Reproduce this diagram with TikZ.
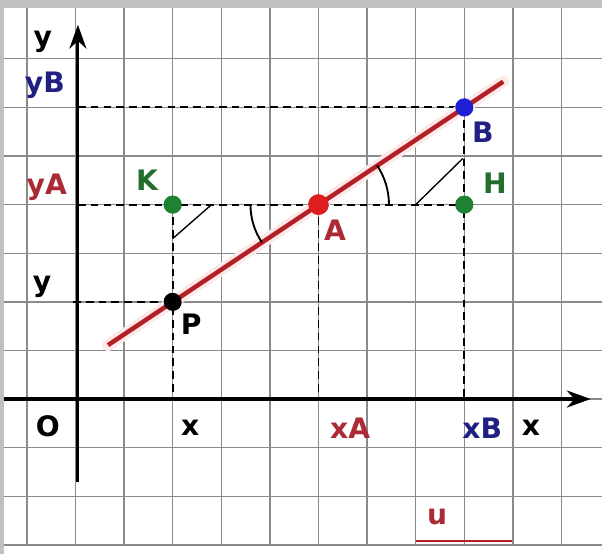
\documentclass[tikz,border=0pt]{standalone}
\usepackage{fontspec}
\setmainfont{DejaVu Sans}
\usetikzlibrary{arrows.meta}
\definecolor{gridgrey}{RGB}{138,138,138}
\definecolor{framegrey}{RGB}{192,192,192}
\definecolor{lnred}{RGB}{178,32,38}
\definecolor{ptred}{RGB}{222,30,30}
\definecolor{ptblue}{RGB}{30,30,210}
\definecolor{ptgreen}{RGB}{30,130,50}
\definecolor{labred}{RGB}{172,42,52}
\definecolor{labblue}{RGB}{32,32,130}
\definecolor{labgreen}{RGB}{35,110,45}

\begin{document}
\begin{tikzpicture}[
    lab/.style={font=\fontsize{16.5}{19}\selectfont\bfseries},
    dot/.style={circle,inner sep=0pt,minimum size=10.5pt},
    dashline/.style={dashed,dash pattern=on 4.5pt off 3pt,line width=1.1pt},
    axisline/.style={line width=1.8pt,-{Stealth[length=14pt,width=10pt]}}]
  % frame and grid
  \useasboundingbox (-1.553,-3.189) rectangle (10.833,8.210);
  \fill[white] (-1.553,-3.189) rectangle (10.833,8.210);
  \fill[framegrey] (-1.553,8.045) rectangle (10.833,8.210);
  \fill[framegrey] (-1.553,-3.189) rectangle (-1.47,8.210);
  \foreach \i in {-1,...,10}
    {\draw[gridgrey,line width=0.8pt] (\i,-3) -- (\i,8.045);}
  \foreach \j in {-3,...,7}
    {\draw[gridgrey,line width=0.8pt] (-1.47,\j) -- (10.833,\j);}

  % axes
  \coordinate (xstart) at (-1.47,0);
  \coordinate (xend) at (10.6,0);
  \coordinate (ystart) at (0.05,-1.7);
  \coordinate (yend) at (0.05,7.7);
  \draw[axisline] (xstart) -- (xend);
  \draw[axisline] (ystart) -- (yend);

  % points
  \node[dot,fill=ptred,minimum size=12pt] (A) at (5,4) {};
  \node[dot,fill=ptblue] (B) at (8,6) {};
  \node[dot,fill=ptgreen] (K) at (2,4) {};
  \node[dot,fill=ptgreen] (H) at (8,4) {};
  \node[dot,fill=black] (P) at (2,2) {};
  \coordinate (yAax) at (0.05,4);
  \coordinate (yBax) at (0.05,6);
  \coordinate (yPax) at (-0.05,2);
  \coordinate (xPax) at (2,0);
  \coordinate (xAax) at (5,0);
  \coordinate (xBax) at (8,0);

  % projections
  \draw[dashline] (yBax) -- (B.center);
  \draw[dashline] (yAax) -- (H.center);
  \draw[dashline] (yPax) -- (P.center);
  \draw[dashline] (K.center) -- (xPax);
  \draw[dashline] (A.center) -- (xAax);
  \draw[dashline] (B.center) -- (xBax);
  \coordinate (k1) at (2,3.3);
  \coordinate (k2) at (2.8,4);
  \coordinate (h1) at (7,4);
  \coordinate (h2) at (7.97,4.95);
  \draw[line width=0.8pt] (k1) -- (k2);
  \draw[line width=0.8pt] (h1) -- (h2);

  % the line and its angles
  \coordinate (l1) at (0.67,1.11);
  \coordinate (l2) at (8.8,6.53);
  \draw[red!9,line width=7pt,line cap=round] (l1) -- (l2);
  \draw[lnred,line width=2.6pt] (l1) -- (l2);
  \draw[line width=1.1pt] ([shift={(180:1.4)}]A.center) arc[start angle=180,end angle=213.7,radius=1.4];
  \draw[line width=1.1pt] ([shift={(0:1.45)}]A.center) arc[start angle=0,end angle=33.7,radius=1.45];
  % dots again, above the lines
  \node[dot,fill=ptred,minimum size=12pt] at (A) {};
  \node[dot,fill=ptblue] at (B) {};
  \node[dot,fill=ptgreen] at (K) {};
  \node[dot,fill=ptgreen] at (H) {};
  \node[dot,fill=black] at (P) {};

  % labels
  \node[lab] (ytop) at (-0.67,7.35) {y};
  \node[lab,text=labblue] (yB) at (-0.63,6.46) {yB};
  \node[lab,text=labred] (yA) at (-0.59,4.36) {yA};
  \node[lab,text=labgreen] (Klab) at (1.47,4.5) {K};
  \node[lab,text=labgreen] (Hlab) at (8.63,4.44) {H};
  \node[lab,text=labblue] (Blab) at (8.38,5.49) {B};
  \node[lab,text=labred] (Alab) at (5.34,3.48) {A};
  \node[lab] (Plab) at (2.38,1.54) {P};
  \node[lab] (yP) at (-0.69,2.3) {y};
  \node[lab] (O) at (-0.57,-0.56) {O};
  \node[lab] (xP) at (2.36,-0.6) {x};
  \node[lab,text=labred] (xA) at (5.65,-0.6) {xA};
  \node[lab,text=labblue] (xB) at (8.37,-0.6) {xB};
  \node[lab] (xlab) at (9.37,-0.6) {x};
  \node[lab,text=labred] (u) at (7.44,-2.43) {u};
  \coordinate (u1) at (7,-2.92);
  \coordinate (u2) at (8.98,-2.92);
  \draw[lnred,line width=1.4pt] (u1) -- (u2);
\end{tikzpicture}
\end{document}
